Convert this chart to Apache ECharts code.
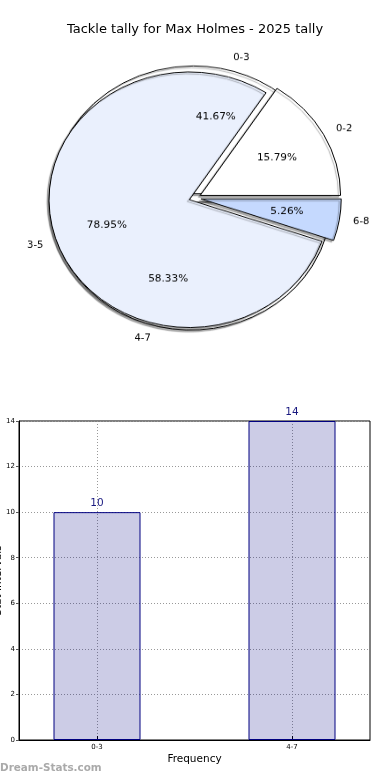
<!DOCTYPE html>
<html><head><meta charset="utf-8">
<script src="https://cdn.jsdelivr.net/npm/echarts@6/dist/echarts.min.js"></script>
<style>
html,body{margin:0;padding:0;background:#fff;}
#main{position:absolute;left:0;top:0;width:390px;height:780px;}
#pie{position:absolute;left:0;top:0;width:390px;height:400px;transform:scaleY(0.911);transform-origin:0 0;}
</style></head><body>
<div id="main"></div><div id="pie"></div>
<script>
const chartTitle = 'Tackle tally for Max Holmes - 2025 tally';
const outerCategories = ['0-3', '4-7'];
const outerValues = [10, 14];
const innerCategories = ['0-2', '3-5', '6-8'];
const innerValues = [3, 15, 1];
const innerColors = ['#ffffff', '#eaf0fd', '#c5d9fe'];
const barCategories = ['0-3', '4-7'];
const barValues = [10, 14];
const yTicks = [0, 2, 4, 6, 8, 10, 12, 14];
const xLabel = 'Frequency';
const yLabel = 'Stat Intervals';
const watermark = 'Dream-Stats.com';

const FONT = 'DejaVu Sans';
const R = 140.3;
const cF = [195, 217.3], cB = [192, 217.3];

function mk(names, vals, colors) {
  return names.map((n, i) => ({
    name: n, value: vals[i], selected: true,
    itemStyle: colors ? { color: colors[i] } : undefined
  }));
}
const shadow = { shadowColor: 'rgba(0,0,0,0.3)', shadowOffsetX: -2, shadowOffsetY: 2, shadowBlur: 1 };
const base = { type: 'pie', startAngle: 0, clockwise: false, selectedMode: 'multiple', avoidLabelOverlap: false, silent: true, emphasis: { disabled: true } };

const pie = echarts.init(document.getElementById('pie'), null, { renderer: 'canvas' });
pie.setOption({
  animation: false,
  series: [
    Object.assign({}, base, {
      z: 1, center: cB, radius: [0, R], selectedOffset: 4.8,
      data: mk(outerCategories, outerValues),
      itemStyle: Object.assign({ color: '#fff', borderColor: '#000', borderWidth: 1 }, shadow),
      label: { show: true, position: 'outside', fontFamily: FONT, fontSize: 10, color: '#000', distanceToLabelLine: 0 },
      labelLine: { show: false, length: 14, length2: 0 }
    }),
    Object.assign({}, base, {
      z: 2, center: cF, radius: [0, R], selectedOffset: 6,
      data: mk(innerCategories, innerValues, innerColors),
      itemStyle: Object.assign({ borderColor: '#000', borderWidth: 1 }, shadow),
      label: { show: true, position: 'outside', fontFamily: FONT, fontSize: 10, color: '#000', distanceToLabelLine: 0 },
      labelLine: { show: false, length: 14, length2: 0 }
    }),
    Object.assign({}, base, {
      z: 5, center: cB, radius: [0, 1.2 * R], selectedOffset: 4.8,
      data: mk(outerCategories, outerValues),
      itemStyle: { color: 'transparent', borderWidth: 0 },
      label: { show: true, position: 'inside', formatter: '{d}%', fontFamily: FONT, fontSize: 10.5, color: '#000' },
      labelLine: { show: false }
    }),
    Object.assign({}, base, {
      z: 5, center: cF, radius: [0, 1.2 * R], selectedOffset: 6,
      data: mk(innerCategories, innerValues),
      itemStyle: { color: 'transparent', borderWidth: 0 },
      label: { show: true, position: 'inside', formatter: '{d}%', fontFamily: FONT, fontSize: 10.5, color: '#000' },
      labelLine: { show: false }
    })
  ]
});

const main = echarts.init(document.getElementById('main'), null, { renderer: 'canvas' });
main.setOption({
  animation: false,
  title: [
    { text: chartTitle, left: 'center', top: 23, padding: 0, textStyle: { fontFamily: FONT, fontSize: 13, fontWeight: 'normal', color: '#000' } },
    { text: watermark, left: 0, top: 763, padding: 0, textStyle: { fontFamily: FONT, fontSize: 10.4, fontWeight: 'bold', color: '#aaa' } }
  ],
  grid: { left: 19, right: 20, top: 421, bottom: 40, containLabel: false, outerBoundsMode: 'none', show: true, borderColor: '#000', borderWidth: 1, backgroundColor: 'transparent' },
  xAxis: {
    type: 'value', min: -0.4, max: 1.4,
    name: xLabel, nameLocation: 'middle', nameGap: 14, nameMoveOverlap: false,
    nameTextStyle: { fontFamily: FONT, fontSize: 10.5, color: '#000' },
    axisLine: { show: true, onZero: false, lineStyle: { color: '#000' } },
    axisTick: { show: true, customValues: [0, 1], inside: true, length: 4, lineStyle: { color: '#000' } },
    axisLabel: { customValues: [0, 1], formatter: v => barCategories[Math.round(v)], fontFamily: FONT, fontSize: 7, color: '#000', margin: 4 },
    splitLine: { show: true, lineStyle: { type: [1, 2], color: '#999' } }
  },
  yAxis: {
    type: 'value', min: yTicks[0], max: yTicks[yTicks.length - 1], interval: yTicks[1] - yTicks[0],
    name: yLabel, nameLocation: 'middle', nameGap: 15, nameMoveOverlap: false,
    nameTextStyle: { fontFamily: FONT, fontSize: 10.5, color: '#000' },
    axisLine: { show: true, onZero: false, lineStyle: { color: '#000' } },
    axisTick: { show: true, length: 3, lineStyle: { color: '#555' } },
    axisLabel: { fontFamily: FONT, fontSize: 7, color: '#000', margin: 4 },
    splitLine: { show: true, lineStyle: { type: [1, 2], color: '#999' } }
  },
  series: [{
    type: 'bar', data: barValues.map((v, i) => [i, v]), barWidth: 87,
    itemStyle: { color: 'rgba(0,0,128,0.2)', borderColor: '#000080', borderWidth: 1 },
    label: { show: true, position: 'top', distance: 3, color: '#1a1a80', fontSize: 10.5, fontFamily: FONT }
  }]
});
</script></body></html>
